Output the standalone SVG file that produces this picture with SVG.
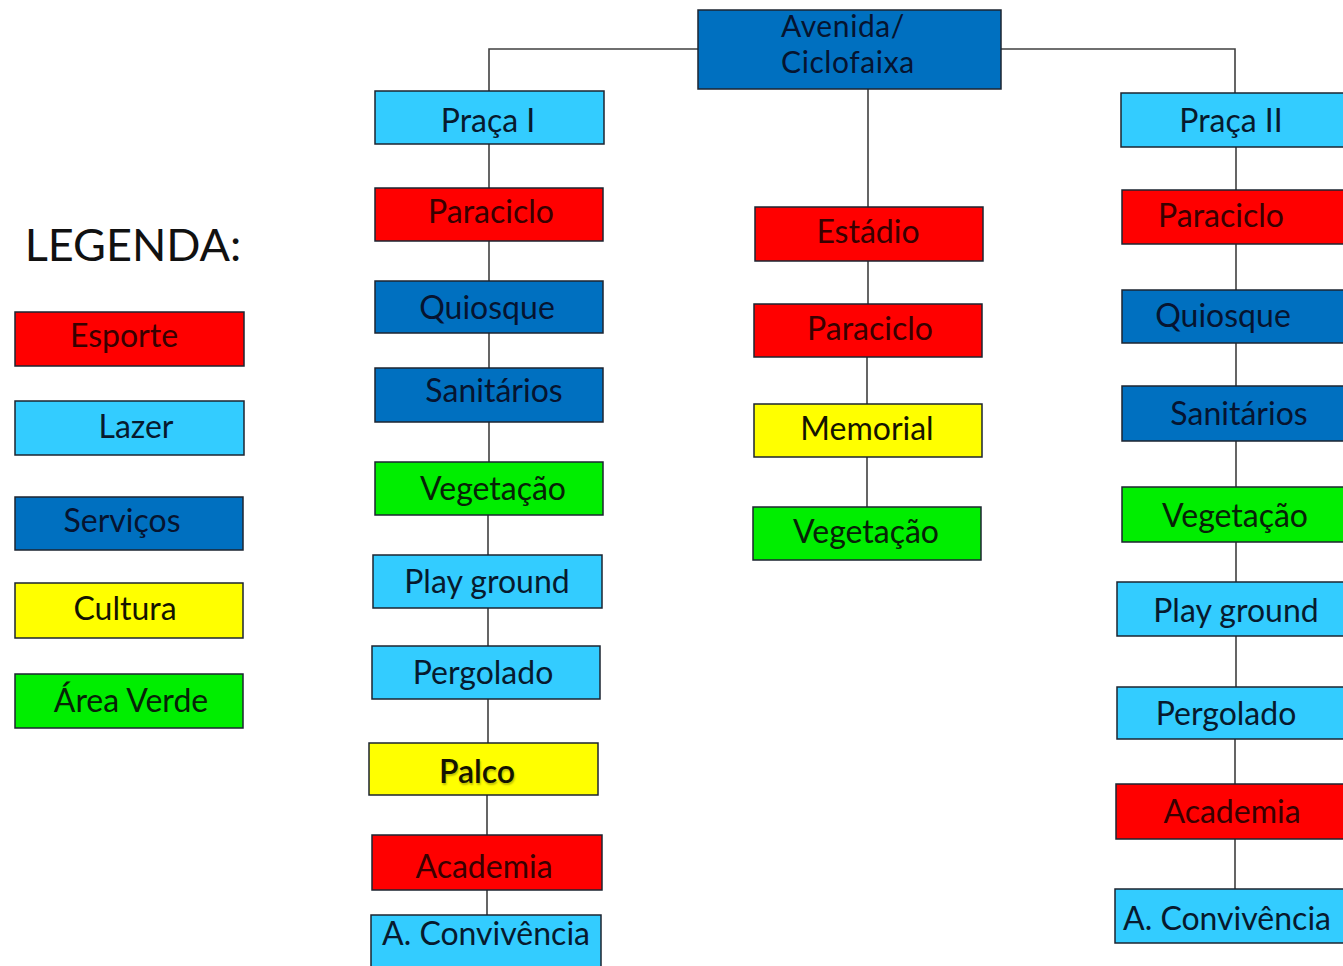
<svg xmlns="http://www.w3.org/2000/svg" width="1343" height="966" viewBox="0 0 1343 966">
<style>
.n rect{stroke:#1c2430;stroke-width:1.5}
.esp rect{fill:#ff0000}
.laz rect{fill:#33ccff}
.ser rect{fill:#0070c0}
.cul rect{fill:#ffff00}
.ver rect{fill:#00ee00}
text{font-family:Lato,"Open Sans","Liberation Sans",sans-serif;font-size:32px;text-anchor:middle}
.esp text{fill:#380000}
.laz text{fill:#071a2e}
.ser text{fill:#061430}
.cul text{fill:#141400}
.ver text{fill:#072207}
.conn{stroke:#404040;stroke-width:1.6;fill:none}
</style>
<rect width="1343" height="966" fill="#ffffff"/>
<g id="connectors" class="conn">
<path d="M489,91 V49 H698 M1001,49 H1235 V93 M868,89 V207"/>
<path d="M489,144 V188 M489,241 V281 M489,333 V368 M489,422 V462 M488,515 V555 M488,608 V646 M488,699 V743 M487,795 V835 M487,890 V915"/>
<path d="M868,261 V304 M867,357 V404 M867,457 V507"/>
<path d="M1236,147 V190 M1236,244 V290 M1236,343 V386 M1236,441 V487 M1236,542 V582 M1236,636 V687 M1235,739 V784 M1235,839 V889"/>
</g>
<g id="legend-title"><text x="133" y="261" style="font-size:45px;fill:#111">LEGENDA:</text></g>
<g id="leg-esporte" class="n esp"><rect x="15" y="312" width="229" height="54"/><text x="124" y="347">Esporte</text></g>
<g id="leg-lazer" class="n laz"><rect x="15" y="401" width="229" height="54"/><text x="136" y="438">Lazer</text></g>
<g id="leg-servicos" class="n ser"><rect x="15" y="497" width="228" height="53"/><text x="122" y="532">Serviços</text></g>
<g id="leg-cultura" class="n cul"><rect x="15" y="583" width="228" height="55"/><text x="125" y="620">Cultura</text></g>
<g id="leg-verde" class="n ver"><rect x="15" y="674" width="228" height="54"/><text x="131" y="712">Área Verde</text></g>
<g id="avenida" class="n ser"><rect x="698" y="10" width="303" height="79"/><text x="781" y="37" style="text-anchor:start;font-size:30px;letter-spacing:0.6px">Avenida/</text><text x="781" y="73" style="text-anchor:start;font-size:30px;letter-spacing:0.6px">Ciclofaixa</text></g>
<g id="praca1" class="n laz"><rect x="375" y="91" width="229" height="53"/><text x="488" y="132">Praça I</text></g>
<g id="p1-paraciclo" class="n esp"><rect x="375" y="188" width="228" height="53"/><text x="491" y="223">Paraciclo</text></g>
<g id="p1-quiosque" class="n ser"><rect x="375" y="281" width="228" height="52"/><text x="487" y="319">Quiosque</text></g>
<g id="p1-sanitarios" class="n ser"><rect x="375" y="368" width="228" height="54"/><text x="494" y="402">Sanitários</text></g>
<g id="p1-vegetacao" class="n ver"><rect x="375" y="462" width="228" height="53"/><text x="493" y="500">Vegetação</text></g>
<g id="p1-playground" class="n laz"><rect x="373" y="555" width="229" height="53"/><text x="487" y="593">Play ground</text></g>
<g id="p1-pergolado" class="n laz"><rect x="372" y="646" width="228" height="53"/><text x="483" y="684">Pergolado</text></g>
<g id="p1-palco" class="n cul"><rect x="369" y="743" width="229" height="52"/><text x="477" y="783" style="font-weight:600;text-shadow:1px 2px 2px rgba(0,0,0,0.25)">Palco</text></g>
<g id="p1-academia" class="n esp"><rect x="372" y="835" width="230" height="55"/><text x="484" y="878">Academia</text></g>
<g id="p1-convivencia" class="n laz"><rect x="371" y="915" width="230" height="60"/><text x="486" y="945">A. Convivência</text></g>
<g id="m-estadio" class="n esp"><rect x="755" y="207" width="228" height="54"/><text x="868" y="243">Estádio</text></g>
<g id="m-paraciclo" class="n esp"><rect x="754" y="304" width="228" height="53"/><text x="870" y="340">Paraciclo</text></g>
<g id="m-memorial" class="n cul"><rect x="754" y="404" width="228" height="53"/><text x="867" y="440">Memorial</text></g>
<g id="m-vegetacao" class="n ver"><rect x="753" y="507" width="228" height="53"/><text x="866" y="543">Vegetação</text></g>
<g id="praca2" class="n laz"><rect x="1121" y="93" width="230" height="54"/><text x="1231" y="132">Praça II</text></g>
<g id="p2-paraciclo" class="n esp"><rect x="1122" y="190" width="230" height="54"/><text x="1221" y="227">Paraciclo</text></g>
<g id="p2-quiosque" class="n ser"><rect x="1122" y="290" width="230" height="53"/><text x="1223" y="327">Quiosque</text></g>
<g id="p2-sanitarios" class="n ser"><rect x="1122" y="386" width="230" height="55"/><text x="1239" y="425">Sanitários</text></g>
<g id="p2-vegetacao" class="n ver"><rect x="1122" y="487" width="230" height="55"/><text x="1235" y="527">Vegetação</text></g>
<g id="p2-playground" class="n laz"><rect x="1117" y="582" width="232" height="54"/><text x="1236" y="622">Play ground</text></g>
<g id="p2-pergolado" class="n laz"><rect x="1117" y="687" width="232" height="52"/><text x="1226" y="725">Pergolado</text></g>
<g id="p2-academia" class="n esp"><rect x="1116" y="784" width="233" height="55"/><text x="1232" y="823">Academia</text></g>
<g id="p2-convivencia" class="n laz"><rect x="1115" y="889" width="234" height="54"/><text x="1227" y="930">A. Convivência</text></g>
</svg>
